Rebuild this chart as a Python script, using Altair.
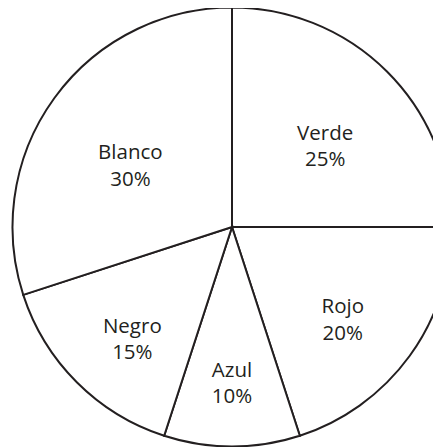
import altair as alt
import pandas as pd

labels = ["Verde", "Rojo", "Azul", "Negro", "Blanco"]
values = [25, 20, 10, 15, 30]

df = pd.DataFrame({"label": labels, "value": values, "idx": list(range(len(labels)))})

R = 219.5
CX, CY = 224, 219
INK = "#231f20"

arcs = alt.Chart(df).mark_arc(
    outerRadius=R, fill="white", stroke=INK, strokeWidth=2, strokeJoin="miter"
).encode(
    theta=alt.Theta("value:Q", stack=True, scale=alt.Scale(domain=[0, 100])),
    order=alt.Order("idx:Q"),
    x=alt.value(CX),
    y=alt.value(CY),
)

texts = alt.Chart(df).transform_window(
    cum="sum(value)", sort=[alt.SortField("idx")], frame=[None, 0]
).transform_calculate(
    txt="datum.label + '\\n' + datum.value + '%'",
    half="datum.value / 100 * PI",
    ang="(datum.cum - datum.value / 2) / 100 * 2 * PI",
).transform_calculate(
    lr="2 * %f * sin(datum.half) / (3 * datum.half)" % R,
).transform_calculate(
    px="%f + datum.lr * sin(datum.ang)" % CX,
    py="%f - datum.lr * cos(datum.ang)" % CY,
).mark_text(
    font="Open Sans", fontSize=20.5, color=INK, lineBreak="\n", lineHeight=26.5,
    align="center", baseline="middle",
).encode(
    text="txt:N",
    x=alt.X("px:Q", scale=None),
    y=alt.Y("py:Q", scale=None),
)

chart = alt.layer(arcs, texts).properties(
    width=425, height=439, padding=0, autosize="none"
).configure_view(stroke=None)

chart.save("out.html", embed_options={"renderer": "svg", "actions": False})
